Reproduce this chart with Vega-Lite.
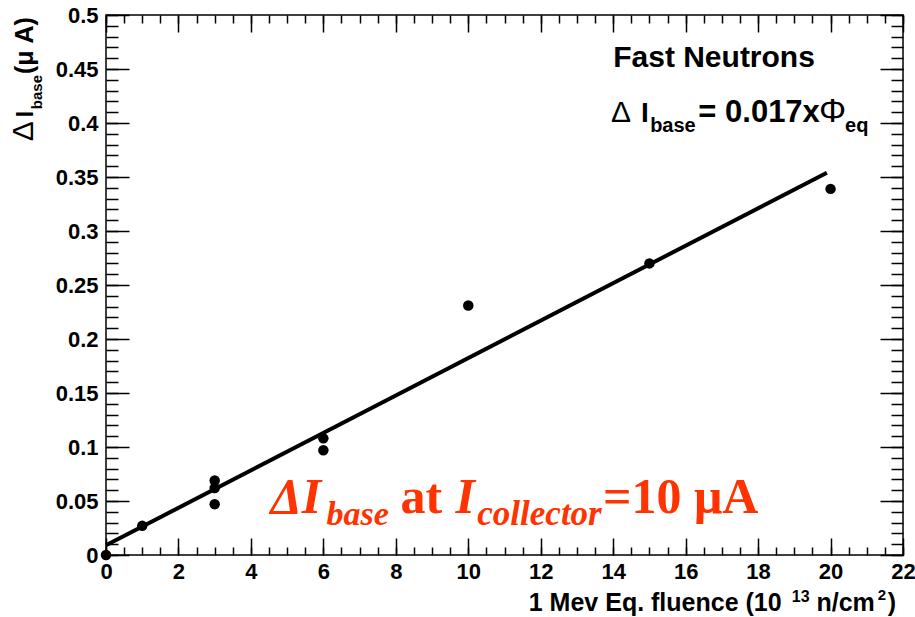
{
  "$schema": "https://vega.github.io/schema/vega-lite/v6.json",
  "autosize": {"type": "none"},
  "width": 797,
  "height": 540,
  "padding": {"left": 106, "top": 15, "right": 12, "bottom": 62},
  "background": "white",
  "config": {
    "view": {"stroke": "black", "strokeWidth": 1.5},
    "axis": {
      "grid": false,
      "domain": false,
      "tickColor": "black",
      "tickWidth": 1.5,
      "labelColor": "black",
      "labelFont": "Liberation Sans",
      "labelFontWeight": "bold",
      "labelFontSize": 22,
      "labelOverlap": false,
      "labelFlush": false,
      "titleColor": "black"
    },
    "text": {"font": "Liberation Sans", "fontWeight": "bold", "color": "black", "align": "left", "baseline": "alphabetic"}
  },
  "datasets": {
    "measured": [
      {"fluence": 0, "dIbase": 0},
      {"fluence": 1, "dIbase": 0.027},
      {"fluence": 3, "dIbase": 0.069},
      {"fluence": 3, "dIbase": 0.062},
      {"fluence": 3, "dIbase": 0.047},
      {"fluence": 6, "dIbase": 0.108},
      {"fluence": 6, "dIbase": 0.097},
      {"fluence": 10, "dIbase": 0.231},
      {"fluence": 15, "dIbase": 0.27},
      {"fluence": 20, "dIbase": 0.339}
    ],
    "fitline": [
      {"fluence": 0, "fit": 0.009},
      {"fluence": 19.9, "fit": 0.354}
    ]
  },
  "resolve": {"axis": {"x": "independent", "y": "independent"}},
  "layer": [
    {
      "data": {"name": "measured"},
      "mark": {"type": "point", "filled": true, "color": "black", "opacity": 1, "size": 110},
      "encoding": {
        "x": {"field": "fluence", "type": "quantitative", "scale": {"domain": [0, 22], "nice": false, "zero": false},
          "axis": {"orient": "bottom", "values": [0,2,4,6,8,10,12,14,16,18,20,22], "format": "d", "ticks": false, "labelPadding": 6, "title": null}},
        "y": {"field": "dIbase", "type": "quantitative", "scale": {"domain": [0, 0.5], "nice": false, "zero": false},
          "axis": {"orient": "left", "values": [0,0.05,0.1,0.15,0.2,0.25,0.3,0.35,0.4,0.45,0.5], "format": ".2~f", "ticks": false, "labelPadding": 8, "title": null}}
      }
    },
    {
      "data": {"name": "fitline"},
      "mark": {"type": "line", "color": "black", "strokeWidth": 4},
      "encoding": {
        "x": {"field": "fluence", "type": "quantitative", "scale": {"domain": [0, 22], "nice": false, "zero": false},
          "axis": {"orient": "bottom", "values": [0,2,4,6,8,10,12,14,16,18,20,22], "labels": false, "tickSize": -17, "title": null}},
        "y": {"field": "fit", "type": "quantitative", "scale": {"domain": [0, 0.5], "nice": false, "zero": false},
          "axis": {"orient": "left", "values": [0,0.05,0.1,0.15,0.2,0.25,0.3,0.35,0.4,0.45,0.5], "labels": false, "tickSize": -23, "title": null}}
      }
    },
    {
      "data": {"name": "measured"},
      "mark": {"type": "point", "opacity": 0},
      "encoding": {
        "x": {"field": "fluence", "type": "quantitative", "scale": {"domain": [0, 22], "nice": false, "zero": false},
          "axis": {"orient": "bottom", "values": [0,0.5,1,1.5,2,2.5,3,3.5,4,4.5,5,5.5,6,6.5,7,7.5,8,8.5,9,9.5,10,10.5,11,11.5,12,12.5,13,13.5,14,14.5,15,15.5,16,16.5,17,17.5,18,18.5,19,19.5,20,20.5,21,21.5,22], "labels": false, "tickSize": -8, "title": null}},
        "y": {"field": "dIbase", "type": "quantitative", "scale": {"domain": [0, 0.5], "nice": false, "zero": false},
          "axis": {"orient": "left", "values": [0,0.01,0.02,0.03,0.04,0.05,0.06,0.07,0.08,0.09,0.1,0.11,0.12,0.13,0.14,0.15,0.16,0.17,0.18,0.19,0.2,0.21,0.22,0.23,0.24,0.25,0.26,0.27,0.28,0.29,0.3,0.31,0.32,0.33,0.34,0.35,0.36,0.37,0.38,0.39,0.4,0.41,0.42,0.43,0.44,0.45,0.46,0.47,0.48,0.49,0.5], "labels": false, "tickSize": -12, "title": null}}
      }
    },
    {
      "data": {"name": "measured"},
      "mark": {"type": "point", "opacity": 0},
      "encoding": {
        "x": {"field": "fluence", "type": "quantitative", "scale": {"domain": [0, 22], "nice": false, "zero": false},
          "axis": {"orient": "top", "values": [0,2,4,6,8,10,12,14,16,18,20,22], "labels": false, "tickSize": -17, "title": null}},
        "y": {"field": "dIbase", "type": "quantitative", "scale": {"domain": [0, 0.5], "nice": false, "zero": false},
          "axis": {"orient": "right", "values": [0,0.05,0.1,0.15,0.2,0.25,0.3,0.35,0.4,0.45,0.5], "labels": false, "tickSize": -23, "title": null}}
      }
    },
    {
      "data": {"name": "measured"},
      "mark": {"type": "point", "opacity": 0},
      "encoding": {
        "x": {"field": "fluence", "type": "quantitative", "scale": {"domain": [0, 22], "nice": false, "zero": false},
          "axis": {"orient": "top", "values": [0,0.5,1,1.5,2,2.5,3,3.5,4,4.5,5,5.5,6,6.5,7,7.5,8,8.5,9,9.5,10,10.5,11,11.5,12,12.5,13,13.5,14,14.5,15,15.5,16,16.5,17,17.5,18,18.5,19,19.5,20,20.5,21,21.5,22], "labels": false, "tickSize": -8, "title": null}},
        "y": {"field": "dIbase", "type": "quantitative", "scale": {"domain": [0, 0.5], "nice": false, "zero": false},
          "axis": {"orient": "right", "values": [0,0.01,0.02,0.03,0.04,0.05,0.06,0.07,0.08,0.09,0.1,0.11,0.12,0.13,0.14,0.15,0.16,0.17,0.18,0.19,0.2,0.21,0.22,0.23,0.24,0.25,0.26,0.27,0.28,0.29,0.3,0.31,0.32,0.33,0.34,0.35,0.36,0.37,0.38,0.39,0.4,0.41,0.42,0.43,0.44,0.45,0.46,0.47,0.48,0.49,0.5], "labels": false, "tickSize": -12, "title": null}}
      }
    },
    {
      "data": {"values": [{}]},
      "mark": {"type": "text", "text": "Δ", "angle": 270, "fontWeight": "normal", "fontSize": 30},
      "encoding": {
        "x": {"datum": -2.02, "type": "quantitative", "axis": null, "scale": {"domain": [0, 22], "nice": false, "zero": false}},
        "y": {"datum": 0.383, "type": "quantitative", "axis": null, "scale": {"domain": [0, 0.5], "nice": false, "zero": false}}
      }
    },
    {
      "data": {"values": [{}]},
      "mark": {"type": "text", "text": "I", "angle": 270, "fontSize": 23},
      "encoding": {
        "x": {"datum": -2.02, "type": "quantitative", "axis": null, "scale": {"domain": [0, 22], "nice": false, "zero": false}},
        "y": {"datum": 0.4054, "type": "quantitative", "axis": null, "scale": {"domain": [0, 0.5], "nice": false, "zero": false}}
      }
    },
    {
      "data": {"values": [{}]},
      "mark": {"type": "text", "text": "base", "angle": 270, "fontSize": 15},
      "encoding": {
        "x": {"datum": -1.77, "type": "quantitative", "axis": null, "scale": {"domain": [0, 22], "nice": false, "zero": false}},
        "y": {"datum": 0.4128, "type": "quantitative", "axis": null, "scale": {"domain": [0, 0.5], "nice": false, "zero": false}}
      }
    },
    {
      "data": {"values": [{}]},
      "mark": {"type": "text", "text": "(μ A)", "angle": 270, "fontSize": 25},
      "encoding": {
        "x": {"datum": -2.02, "type": "quantitative", "axis": null, "scale": {"domain": [0, 22], "nice": false, "zero": false}},
        "y": {"datum": 0.4453, "type": "quantitative", "axis": null, "scale": {"domain": [0, 0.5], "nice": false, "zero": false}}
      }
    },
    {
      "data": {"values": [{}]},
      "mark": {"type": "text", "text": "1 Mev Eq. fluence (10", "fontSize": 25},
      "encoding": {
        "x": {"datum": 11.67, "type": "quantitative", "axis": null, "scale": {"domain": [0, 22], "nice": false, "zero": false}},
        "y": {"datum": -0.052, "type": "quantitative", "axis": null, "scale": {"domain": [0, 0.5], "nice": false, "zero": false}}
      }
    },
    {
      "data": {"values": [{}]},
      "mark": {"type": "text", "text": "13", "fontSize": 16},
      "encoding": {
        "x": {"datum": 18.93, "type": "quantitative", "axis": null, "scale": {"domain": [0, 22], "nice": false, "zero": false}},
        "y": {"datum": -0.0435, "type": "quantitative", "axis": null, "scale": {"domain": [0, 0.5], "nice": false, "zero": false}}
      }
    },
    {
      "data": {"values": [{}]},
      "mark": {"type": "text", "text": "n/cm", "fontSize": 25},
      "encoding": {
        "x": {"datum": 19.61, "type": "quantitative", "axis": null, "scale": {"domain": [0, 22], "nice": false, "zero": false}},
        "y": {"datum": -0.052, "type": "quantitative", "axis": null, "scale": {"domain": [0, 0.5], "nice": false, "zero": false}}
      }
    },
    {
      "data": {"values": [{}]},
      "mark": {"type": "text", "text": "2", "fontSize": 15},
      "encoding": {
        "x": {"datum": 21.3, "type": "quantitative", "axis": null, "scale": {"domain": [0, 22], "nice": false, "zero": false}},
        "y": {"datum": -0.0417, "type": "quantitative", "axis": null, "scale": {"domain": [0, 0.5], "nice": false, "zero": false}}
      }
    },
    {
      "data": {"values": [{}]},
      "mark": {"type": "text", "text": ")", "fontSize": 25},
      "encoding": {
        "x": {"datum": 21.58, "type": "quantitative", "axis": null, "scale": {"domain": [0, 22], "nice": false, "zero": false}},
        "y": {"datum": -0.052, "type": "quantitative", "axis": null, "scale": {"domain": [0, 0.5], "nice": false, "zero": false}}
      }
    },
    {
      "data": {"values": [{}]},
      "mark": {"type": "text", "text": "Fast Neutrons", "fontSize": 30},
      "encoding": {
        "x": {"datum": 14.0, "type": "quantitative", "axis": null, "scale": {"domain": [0, 22], "nice": false, "zero": false}},
        "y": {"datum": 0.4518, "type": "quantitative", "axis": null, "scale": {"domain": [0, 0.5], "nice": false, "zero": false}}
      }
    },
    {
      "data": {"values": [{}]},
      "mark": {"type": "text", "text": "Δ", "fontWeight": "normal", "fontSize": 30},
      "encoding": {
        "x": {"datum": 13.94, "type": "quantitative", "axis": null, "scale": {"domain": [0, 22], "nice": false, "zero": false}},
        "y": {"datum": 0.4007, "type": "quantitative", "axis": null, "scale": {"domain": [0, 0.5], "nice": false, "zero": false}}
      }
    },
    {
      "data": {"values": [{}]},
      "mark": {"type": "text", "text": "I", "fontSize": 28},
      "encoding": {
        "x": {"datum": 14.77, "type": "quantitative", "axis": null, "scale": {"domain": [0, 22], "nice": false, "zero": false}},
        "y": {"datum": 0.4007, "type": "quantitative", "axis": null, "scale": {"domain": [0, 0.5], "nice": false, "zero": false}}
      }
    },
    {
      "data": {"values": [{}]},
      "mark": {"type": "text", "text": "base", "fontSize": 20},
      "encoding": {
        "x": {"datum": 15.02, "type": "quantitative", "axis": null, "scale": {"domain": [0, 22], "nice": false, "zero": false}},
        "y": {"datum": 0.3915, "type": "quantitative", "axis": null, "scale": {"domain": [0, 0.5], "nice": false, "zero": false}}
      }
    },
    {
      "data": {"values": [{}]},
      "mark": {"type": "text", "text": "= 0.017x", "fontSize": 31},
      "encoding": {
        "x": {"datum": 16.35, "type": "quantitative", "axis": null, "scale": {"domain": [0, 22], "nice": false, "zero": false}},
        "y": {"datum": 0.4007, "type": "quantitative", "axis": null, "scale": {"domain": [0, 0.5], "nice": false, "zero": false}}
      }
    },
    {
      "data": {"values": [{}]},
      "mark": {"type": "text", "text": "Φ", "fontWeight": "normal", "fontSize": 34},
      "encoding": {
        "x": {"datum": 19.68, "type": "quantitative", "axis": null, "scale": {"domain": [0, 22], "nice": false, "zero": false}},
        "y": {"datum": 0.4007, "type": "quantitative", "axis": null, "scale": {"domain": [0, 0.5], "nice": false, "zero": false}}
      }
    },
    {
      "data": {"values": [{}]},
      "mark": {"type": "text", "text": "eq", "fontSize": 20},
      "encoding": {
        "x": {"datum": 20.4, "type": "quantitative", "axis": null, "scale": {"domain": [0, 22], "nice": false, "zero": false}},
        "y": {"datum": 0.3915, "type": "quantitative", "axis": null, "scale": {"domain": [0, 0.5], "nice": false, "zero": false}}
      }
    },
    {
      "data": {"values": [{}]},
      "mark": {"type": "text", "text": "ΔI", "font": "Liberation Serif", "fontStyle": "italic", "fontSize": 50, "color": "#ff3300"},
      "encoding": {
        "x": {"datum": 4.54, "type": "quantitative", "axis": null, "scale": {"domain": [0, 22], "nice": false, "zero": false}},
        "y": {"datum": 0.039, "type": "quantitative", "axis": null, "scale": {"domain": [0, 0.5], "nice": false, "zero": false}}
      }
    },
    {
      "data": {"values": [{}]},
      "mark": {"type": "text", "text": "base", "font": "Liberation Serif", "fontStyle": "italic", "fontSize": 34, "color": "#ff3300"},
      "encoding": {
        "x": {"datum": 6.09, "type": "quantitative", "axis": null, "scale": {"domain": [0, 22], "nice": false, "zero": false}},
        "y": {"datum": 0.0278, "type": "quantitative", "axis": null, "scale": {"domain": [0, 0.5], "nice": false, "zero": false}}
      }
    },
    {
      "data": {"values": [{}]},
      "mark": {"type": "text", "text": "at", "font": "Liberation Serif", "fontSize": 50, "color": "#ff3300"},
      "encoding": {
        "x": {"datum": 8.13, "type": "quantitative", "axis": null, "scale": {"domain": [0, 22], "nice": false, "zero": false}},
        "y": {"datum": 0.039, "type": "quantitative", "axis": null, "scale": {"domain": [0, 0.5], "nice": false, "zero": false}}
      }
    },
    {
      "data": {"values": [{}]},
      "mark": {"type": "text", "text": "I", "font": "Liberation Serif", "fontStyle": "italic", "fontSize": 50, "color": "#ff3300"},
      "encoding": {
        "x": {"datum": 9.65, "type": "quantitative", "axis": null, "scale": {"domain": [0, 22], "nice": false, "zero": false}},
        "y": {"datum": 0.039, "type": "quantitative", "axis": null, "scale": {"domain": [0, 0.5], "nice": false, "zero": false}}
      }
    },
    {
      "data": {"values": [{}]},
      "mark": {"type": "text", "text": "collector", "font": "Liberation Serif", "fontStyle": "italic", "fontSize": 35, "color": "#ff3300"},
      "encoding": {
        "x": {"datum": 10.25, "type": "quantitative", "axis": null, "scale": {"domain": [0, 22], "nice": false, "zero": false}},
        "y": {"datum": 0.0278, "type": "quantitative", "axis": null, "scale": {"domain": [0, 0.5], "nice": false, "zero": false}}
      }
    },
    {
      "data": {"values": [{}]},
      "mark": {"type": "text", "text": "=10 μA", "font": "Liberation Serif", "fontSize": 50, "color": "#ff3300"},
      "encoding": {
        "x": {"datum": 13.72, "type": "quantitative", "axis": null, "scale": {"domain": [0, 22], "nice": false, "zero": false}},
        "y": {"datum": 0.039, "type": "quantitative", "axis": null, "scale": {"domain": [0, 0.5], "nice": false, "zero": false}}
      }
    }
  ]
}
